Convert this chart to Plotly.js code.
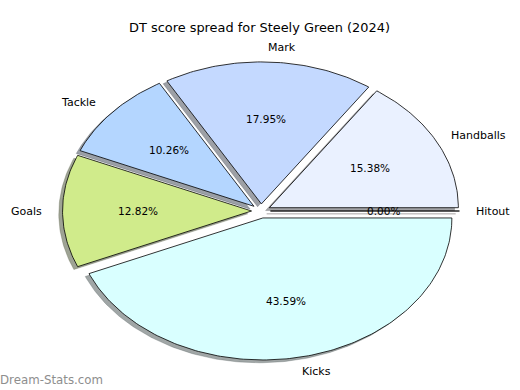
<!DOCTYPE html>
<html>
<head>
<meta charset="utf-8">
<script src="https://cdn.plot.ly/plotly-3.0.1.min.js"></script>
<style>html,body{margin:0;padding:0;background:#fff;}#chart{width:520px;height:390px;}</style>
</head>
<body>
<div id="chart"></div>
<script>
// ---- data ----
const categories = ['Hitout', 'Handballs', 'Mark', 'Tackle', 'Goals', 'Kicks'];
const values = [0, 6, 7, 4, 5, 17];
const sliceColors = ['#ffe0e0', '#eaf1ff', '#c4d9ff', '#b4d6ff', '#d0eb8b', '#d9ffff'];
const chartTitle = 'DT score spread for Steely Green (2024)';
const watermark = 'Dream-Stats.com';

// ---- geometry (matplotlib-like pie: radius 1, explode, shadow) ----
const R = 1, EXPLODE = 0.05, SH_X = -0.02, SH_Y = -0.02;
const LABEL_DIST = 1.1, PCT_DIST = 0.6;
const FONT = 'DejaVu Sans, sans-serif';
const CX_PX = 261, CY_PX = 211, RX_PX = 189, RY_PX = 142;

function hexToRgb(h) {
  const v = parseInt(h.slice(1), 16);
  return [(v >> 16) & 255, (v >> 8) & 255, v & 255];
}

const total = values.reduce((a, b) => a + b, 0);
const shadowTraces = [], wedgeTraces = [], annotations = [];
let ang = 0;
categories.forEach((cat, i) => {
  const frac = values[i] / total;
  const t1 = ang, t2 = ang + frac * 2 * Math.PI;
  ang = t2;
  const mid = (t1 + t2) / 2;
  const cx = EXPLODE * Math.cos(mid), cy = EXPLODE * Math.sin(mid);
  const xs = [cx], ys = [cy];
  const n = Math.max(2, Math.ceil(frac * 360));
  for (let k = 0; k <= n; k++) {
    const t = t1 + (t2 - t1) * k / n;
    xs.push(cx + R * Math.cos(t));
    ys.push(cy + R * Math.sin(t));
  }
  xs.push(cx); ys.push(cy);
  const rgb = hexToRgb(sliceColors[i]);
  const sc = 'rgba(' + rgb.map(c => Math.round(c * 0.3)).join(',') + ',0.5)';
  shadowTraces.push({
    type: 'scatter', mode: 'lines', x: xs.map(v => v + SH_X), y: ys.map(v => v + SH_Y),
    fill: 'toself', fillcolor: sc, line: {color: sc, width: 0.5}, hoverinfo: 'skip', showlegend: false
  });
  wedgeTraces.push({
    type: 'scatter', mode: 'lines', x: xs, y: ys, name: cat,
    fill: 'toself', fillcolor: sliceColors[i], line: {color: '#000', width: 0.8}, showlegend: false,
    hoverinfo: 'name'
  });
  const xt = cx + LABEL_DIST * R * Math.cos(mid), yt = cy + LABEL_DIST * R * Math.sin(mid);
  annotations.push({
    x: xt, y: yt, xref: 'x', yref: 'y', text: cat, showarrow: false,
    xanchor: xt > 0 ? 'left' : 'right', yanchor: 'middle', xshift: xt > 0 ? -4 : 0,
    font: {family: FONT, size: 11, color: '#000'}
  });
  const xp = cx + PCT_DIST * R * Math.cos(mid), yp = cy + PCT_DIST * R * Math.sin(mid);
  annotations.push({
    x: xp, y: yp, xref: 'x', yref: 'y', text: (frac * 100).toFixed(2) + '%', showarrow: false,
    xanchor: 'center', yanchor: 'middle',
    font: {family: FONT, size: 10.5, color: '#000'}
  });
});

annotations.push({
  x: 0, y: 1 - 380 / 390, xref: 'paper', yref: 'paper', text: watermark, showarrow: false,
  xanchor: 'left', yanchor: 'middle', xshift: -2, font: {family: FONT, size: 11.8, color: '#8e8e8e'}
});

const layout = {
  width: 520, height: 390, autosize: false,
  margin: {l: 0, r: 0, t: 0, b: 0},
  paper_bgcolor: '#fff', plot_bgcolor: '#fff',
  title: {text: chartTitle, x: 259.5 / 520, xanchor: 'center', xref: 'container',
          y: 1 - 27 / 390, yanchor: 'middle', yref: 'container',
          font: {family: FONT, size: 12.9, color: '#000'}},
  xaxis: {range: [-CX_PX / RX_PX, (520 - CX_PX) / RX_PX], visible: false, fixedrange: true},
  yaxis: {range: [-(390 - CY_PX) / RY_PX, CY_PX / RY_PX], visible: false, fixedrange: true},
  annotations: annotations,
  showlegend: false
};

Plotly.newPlot('chart', shadowTraces.concat(wedgeTraces), layout, {displayModeBar: false, staticPlot: true});
</script>
</body>
</html>
